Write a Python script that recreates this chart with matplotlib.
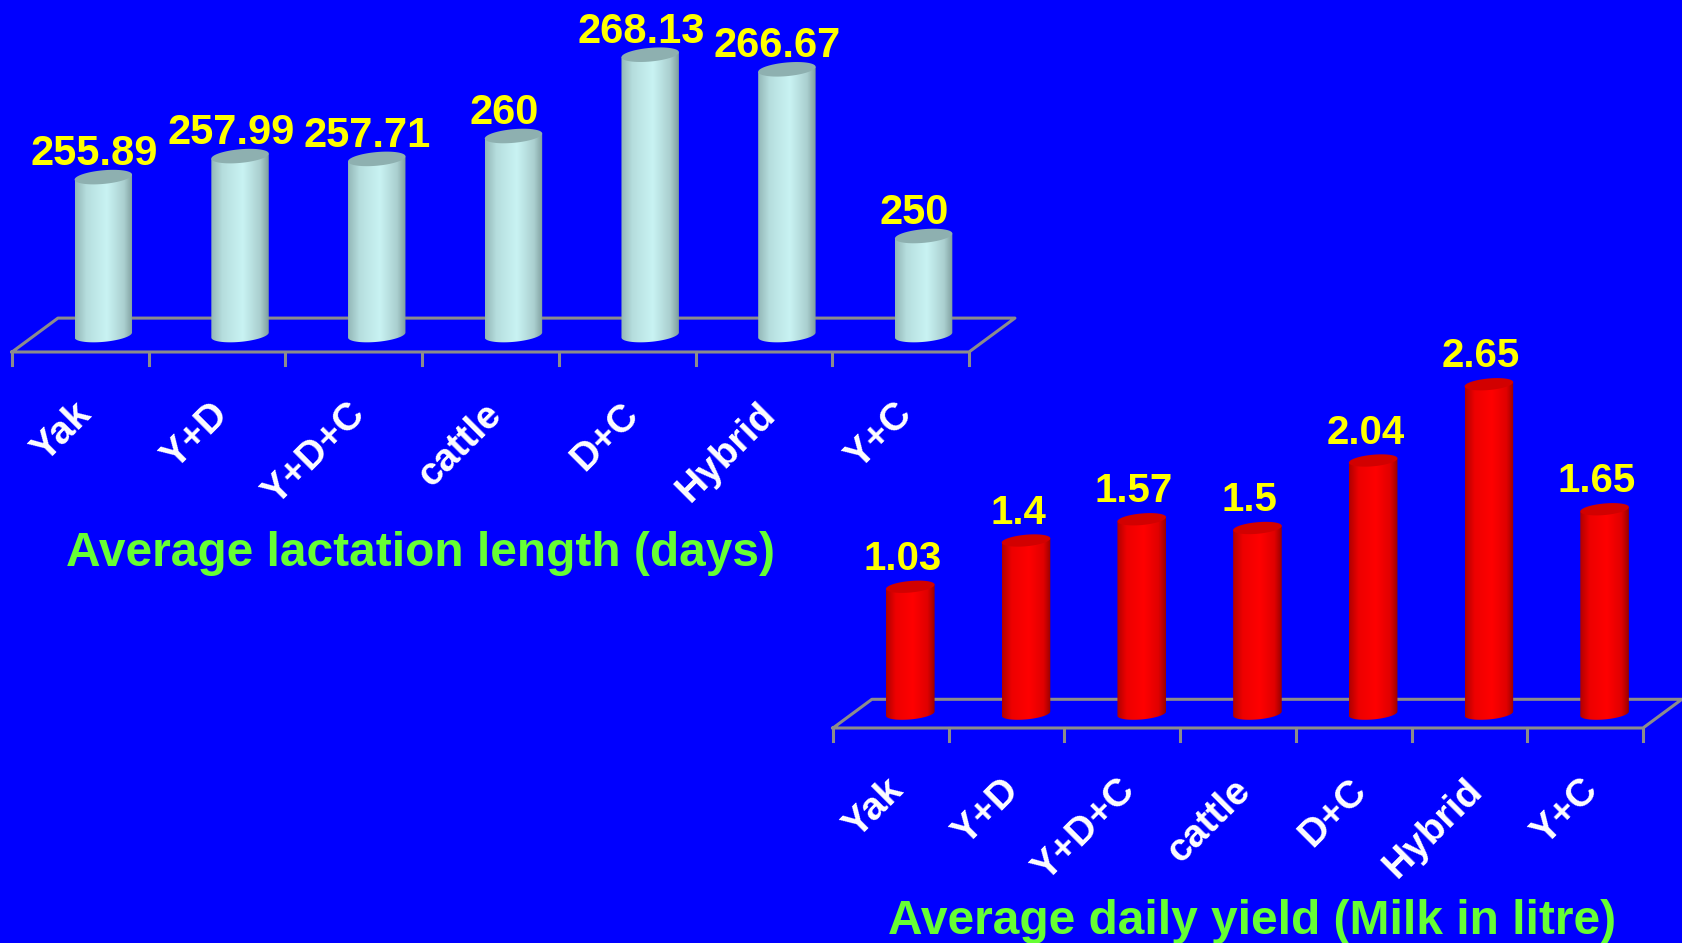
import numpy as np
import matplotlib
matplotlib.use('Agg')
import matplotlib.pyplot as plt
from matplotlib.colors import LinearSegmentedColormap
from matplotlib.patches import Polygon

# data
categories     = ['Yak', 'Y+D', 'Y+D+C', 'cattle', 'D+C', 'Hybrid', 'Y+C']
lactation_days = [255.89, 257.99, 257.71, 260, 268.13, 266.67, 250]
daily_yield    = [1.03, 1.4, 1.57, 1.5, 2.04, 2.65, 1.65]
title_top      = 'Average lactation length (days)'
title_bottom   = 'Average daily yield (Milk in litre)'

# styles
BLUE   = '#0000ff'
YELLOW = '#ffff00'
GREEN  = '#66ff33'
FLOOR  = '#8c8c8c'
plt.rcParams['font.family'] = ['Liberation Sans', 'DejaVu Sans']
plt.rcParams['font.weight'] = 'bold'

cyan_body = LinearSegmentedColormap.from_list('cyan', [(0, '#93b7b7'), (0.2, '#b6dede'), (0.55, '#c9f3f3'),
                                                      (0.85, '#aacfcf'), (1, '#7f9e9e')])
red_body  = LinearSegmentedColormap.from_list('red', [(0, '#b00000'), (0.2, '#ee0000'), (0.55, '#ff0000'),
                                                     (0.85, '#e00000'), (1, '#980000')])

W, H = 1682, 943
fig = plt.figure(figsize=(W / 100, H / 100), dpi=100, facecolor=BLUE)


def chart(rect, values, ymin, ymax, cmap, top_color, label_gap, label_size):
    ax = fig.add_axes(rect)
    ax.set_xlim(-0.5, len(values) - 0.5)
    ax.set_ylim(ymin, ymax)
    ax.set_autoscale_on(False)
    ax.axis('off')

    # pixels per data unit
    p0 = ax.transData.transform((0, ymin))
    p1 = ax.transData.transform((1, ymin + 1))
    sx, sy = p1[0] - p0[0], p1[1] - p0[1]

    # floor (depth given as a fraction of the category spacing)
    dep_x = 0.336
    dep_y = 0.248 * sx / sy
    x0, x1 = -0.5, len(values) - 0.5
    fx = [x0, x1, x1 + dep_x, x0 + dep_x, x0]
    fy = [ymin, ymin, ymin + dep_y, ymin + dep_y, ymin]
    ax.plot(fx, fy, color=FLOOR, lw=2.2, clip_on=False, zorder=1)
    for x in np.arange(x0, x1 + 0.01):
        ax.plot([x, x], [ymin, ymin - 13 / sy], color=FLOOR, lw=2.2, clip_on=False, zorder=1)

    # cylinders
    a = 0.21
    b = 0.05 * sx / sy
    k = np.tan(np.radians(5)) * sx / sy
    grad = np.linspace(0, 1, 256).reshape(1, -1)
    for i, v in enumerate(values):
        cx = i + dep_x / 2
        base = ymin + dep_y / 2
        t = np.linspace(np.pi, 2 * np.pi, 60)
        xs = cx + a * np.cos(t)
        ys = base + b * np.sin(t) + k * (xs - cx)
        body = np.column_stack([np.r_[xs, cx + a, cx - a], np.r_[ys, v + k * a, v - k * a]])
        clip = Polygon(body, closed=True, facecolor='none', edgecolor='none', zorder=2)
        ax.add_patch(clip)
        im = ax.imshow(grad, extent=(cx - a, cx + a, base - 3 * b, v + 3 * b), aspect='auto',
                       cmap=cmap, interpolation='bilinear', zorder=3)
        im.set_clip_path(clip)

        t = np.linspace(0, 2 * np.pi, 120)
        xs = cx + a * np.cos(t)
        ys = v + b * np.sin(t) + k * (xs - cx)
        ax.add_patch(Polygon(np.column_stack([xs, ys]), closed=True, facecolor=top_color,
                             edgecolor='none', zorder=4, clip_on=False))

        ax.text(i + 0.1, v + label_gap / sy, f'{v:g}', color=YELLOW, fontsize=label_size,
                fontweight='bold', ha='center', va='baseline', clip_on=False, zorder=5)
        ax.text(i - 0.05, ymin - 44 / sy, categories[i], color='white', fontsize=28,
                fontweight='bold', rotation=45, rotation_mode='anchor', ha='right', va='top')
    return ax


# top chart: front floor line from x 12 to 969 at y 352 (pixels), 10 px per day
top_rect = [12 / W, (H - 352) / H, 957 / W, 352 / H]
chart(top_rect, lactation_days, 238.4, 238.4 + 352 / 10, cyan_body, '#8eb0b0', 12, 30)

# bottom chart: front floor line from x 833 to 1643 at y 728, 125 px per litre
bot_rect = [833 / W, (H - 728) / H, 810 / W, 428 / H]
chart(bot_rect, daily_yield, -0.1, -0.1 + 428 / 125, red_body, '#d20000', 17, 29)

fig.text(420 / W, 1 - 554 / H, title_top, color=GREEN, fontsize=34.5, fontweight='bold',
         ha='center', va='center')
fig.text(1252 / W, 1 - 921 / H, title_bottom, color=GREEN, fontsize=34.5, fontweight='bold',
         ha='center', va='center')

fig.savefig('out.png', dpi=100, facecolor=BLUE)
